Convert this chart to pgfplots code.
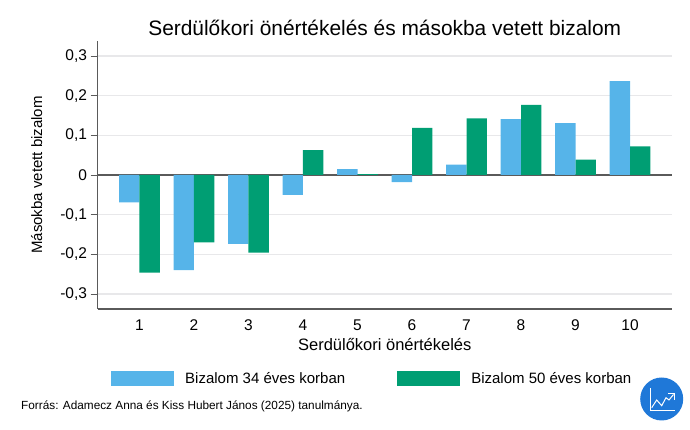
\documentclass[border=0pt]{standalone}
\usepackage{fontspec}
\setmainfont{Liberation Sans}
\usepackage{pgfplots}
\pgfplotsset{compat=1.18}
\definecolor{kek}{HTML}{56B4E9}
\definecolor{zold}{HTML}{009E73}
\definecolor{racs}{HTML}{E8E8EA}
\definecolor{tengely}{HTML}{5A5A5A}
\definecolor{ikon}{HTML}{1F78D8}
\begin{document}
\begin{tikzpicture}[x=1pt,y=1pt]
\path[use as bounding box] (0,0) rectangle (690,430);
\begin{axis}[
    at={(97.5pt,121pt)},
    anchor=south west,
    scale only axis,
    width=574.5pt,
    height=268pt,
    xmin=0.23, xmax=10.77,
    ymin=-0.338, ymax=0.338,
    ybar=0pt,
    bar width=20.4pt,
    axis lines=left,
    axis line style={tengely,line width=1.2pt,-},
    xtick={1,...,10},
    xtick style={draw=none},
    ytick={-0.3,-0.2,-0.1,0.1,0.2,0.3},
    yticklabels={{-0,3},{-0,2},{-0,1},{0,1},{0,2},{0,3}},
    extra y ticks={0},
    extra y tick labels={0},
    extra y tick style={grid style={tengely,line width=1.2pt}},
    ytick style={tengely,line width=0.8pt},
    tick align=outside,
    major tick length=7pt,
    ymajorgrids,
    grid style={racs,line width=1.2pt},
    tick label style={font=\fontsize{15.5}{18}\selectfont},
    /pgf/number format/assume math mode=true,
    title={Serdülőkori önértékelés és másokba vetett bizalom},
    title style={font=\fontsize{20.9}{25}\selectfont,at={(0.5,1)},yshift=-4pt},
    xlabel={Serdülőkori önértékelés},
    xlabel style={font=\fontsize{16.5}{20}\selectfont,yshift=-1pt},
    ylabel={Másokba vetett bizalom},
    ylabel style={font=\fontsize{15}{18}\selectfont,yshift=-3pt},
    legend columns=2,
    legend style={
      at={(10.5pt,-80pt)},anchor=south west,
      draw=none,fill=none,
      font=\fontsize{15}{18}\selectfont,
      /tikz/every even column/.append style={column sep=41pt},
      nodes={inner xsep=11pt},
    },
    legend image code/.code={\fill[#1,draw=none] (0pt,-7.5pt) rectangle (63pt,7.5pt);},
]
\addplot[fill=kek,draw=none] coordinates {
(1,-0.069) (2,-0.240) (3,-0.174) (4,-0.050) (5,0.015)
(6,-0.018) (7,0.026) (8,0.141) (9,0.131) (10,0.237)
};
\addlegendentry{Bizalom 34 éves korban}
\addplot[fill=zold,draw=none] coordinates {
(1,-0.246) (2,-0.170) (3,-0.196) (4,0.063) (5,0.002)
(6,0.119) (7,0.143) (8,0.177) (9,0.039) (10,0.072)
};
\addlegendentry{Bizalom 50 éves korban}
\end{axis}
\node[anchor=base west,inner sep=0pt,font=\fontsize{11.8}{14}\selectfont] at (21pt,20pt) {Forrás: Adamecz Anna és Kiss Hubert János (2025) tanulmánya.};
% kis ikon jobbra lent
\fill[ikon] (661.7pt,31pt) circle (21.5pt);
\draw[white,line width=1pt] (650pt,42pt)--(650pt,19.5pt)--(674.5pt,19.5pt);
\draw[white,line width=1pt] (651.7pt,22.3pt)--(656.7pt,30pt)--(661.7pt,24.3pt)--(666pt,32.3pt)--(669pt,30pt)--(673.5pt,35.5pt);
\draw[white,line width=1pt] (668.3pt,36pt)--(674.3pt,36pt)--(674.3pt,30pt);
\end{tikzpicture}
\end{document}
